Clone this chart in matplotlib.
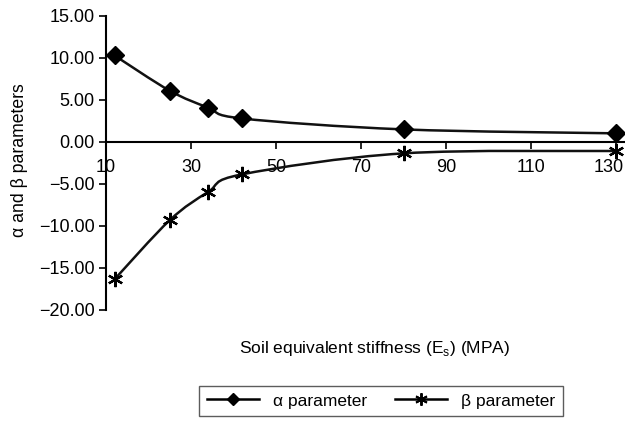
import matplotlib
matplotlib.use("Agg")
import matplotlib.pyplot as plt
import matplotlib.transforms as mtransforms
from matplotlib.path import Path
from matplotlib.patches import PathPatch
from matplotlib.lines import Line2D

# Datos
rigidez = [12, 25, 34, 42, 80, 130]
alfa = [10.30, 6.10, 4.10, 2.80, 1.50, 1.03]
beta = [-16.35, -9.30, -5.95, -3.85, -1.35, -1.07]
ticks_x = [10, 30, 50, 70, 90, 110, 130]
ticks_y = [15, 10, 5, 0, -5, -10, -15, -20]

plt.rcParams["font.family"] = ["Liberation Sans", "DejaVu Sans"]


def curva_suave(ax, xs, ys):
    """Linea suavizada (bezier tipo Catmull-Rom) calculada en pixeles, como Excel."""
    pts = ax.transData.transform(list(zip(xs, ys)))
    verts = [pts[0]]
    codes = [Path.MOVETO]
    n = len(pts)
    for i in range(n - 1):
        p0 = pts[i - 1] if i > 0 else pts[i]
        p1 = pts[i]
        p2 = pts[i + 1]
        p3 = pts[i + 2] if i + 2 < n else pts[i + 1]
        c1 = p1 + (p2 - p0) / 6
        c2 = p2 - (p3 - p1) / 6
        verts += [c1, c2, p2]
        codes += [Path.CURVE4] * 3
    verts = ax.transData.inverted().transform(verts)
    return Path(verts, codes)


fig = plt.figure(figsize=(6.25, 4.22), dpi=100)
ax = fig.add_axes([106 / 625, 1 - 310 / 422, (625 - 106) / 625, (310 - 16) / 422])

ax.set_xlim(10, 132)
ax.set_ylim(-20, 15)

for serie in (alfa, beta):
    ax.add_patch(PathPatch(curva_suave(ax, rigidez, serie), fill=False,
                           edgecolor="#111111", lw=1.8, zorder=2))

ax.plot(rigidez, alfa, ls="none", marker="D", ms=9.5, color="black", zorder=3)
ax.plot(rigidez, beta, ls="none", marker=(6, 2, 0), ms=11, mew=1.6,
        color="black", zorder=3)

ax.set_xticks(ticks_x)
ax.set_yticks(ticks_y)
ax.set_yticklabels([f"{v:.2f}".replace("-", "\u2212") for v in ticks_y])

ax.spines["top"].set_visible(False)
ax.spines["right"].set_visible(False)
ax.spines["bottom"].set_position(("data", 0))
ax.spines["bottom"].set_linewidth(1.5)
ax.spines["left"].set_linewidth(1.5)
ax.tick_params(axis="both", labelsize=13, width=1.2, length=5, direction="out", pad=3)
ax.tick_params(axis="x", pad=7)

# Como en Excel, la ultima etiqueta se corre para quedar dentro del area
ultima = ax.get_xticklabels()[-1]
ultima.set_horizontalalignment("right")
ultima.set_transform(ultima.get_transform()
                     + mtransforms.ScaledTranslation(7 / 100, 0, fig.dpi_scale_trans))

ax.set_ylabel("\u03b1 and \u03b2 parameters", fontsize=12.7)
ax.yaxis.set_label_coords((28 - 106) / 519, (310 - 160) / 294)
fig.text(375 / 625, 1 - 348 / 422, "Soil equivalent stiffness (E$_\\mathregular{s}$) (MPA)",
         ha="center", va="center", fontsize=12.5)

manejadores = [
    Line2D([], [], color="black", lw=1.8, marker="D", ms=6, label="\u03b1 parameter"),
    Line2D([], [], color="black", lw=1.8, marker=(6, 2, 0), ms=9, mew=1.4,
           label="\u03b2 parameter"),
]
ley = fig.legend(handles=manejadores, loc="center", ncol=2, fontsize=12.5,
                 bbox_to_anchor=(381 / 625, 1 - 401 / 422), frameon=True,
                 fancybox=False, edgecolor="#333333", handlelength=3.0,
                 columnspacing=1.6, borderpad=0.45)
ley.get_frame().set_linewidth(1.0)

fig.savefig("out.png", dpi=100)
